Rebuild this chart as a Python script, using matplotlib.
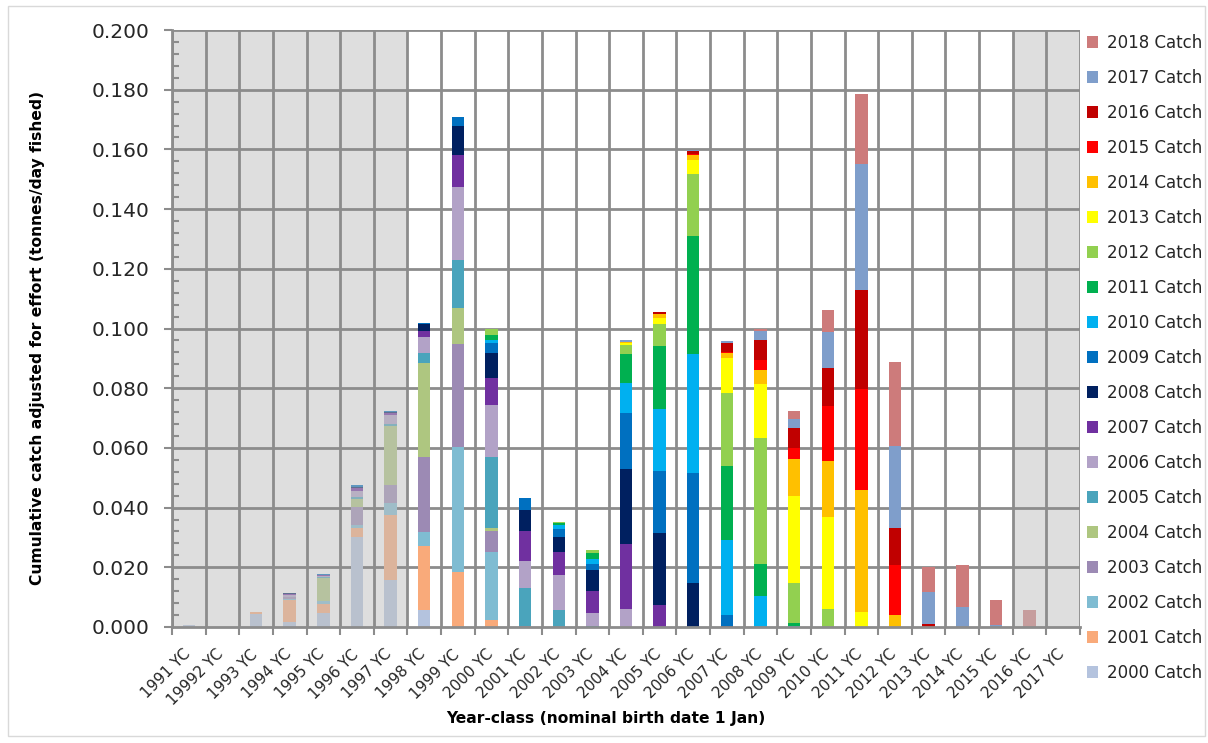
import matplotlib
matplotlib.use("Agg")
import matplotlib.pyplot as plt
import numpy as np
from matplotlib.patches import Rectangle, Patch
from matplotlib.colors import to_rgb
from matplotlib.transforms import blended_transform_factory, ScaledTranslation

year_classes = ["1991 YC", "19992 YC", "1993 YC", "1994 YC", "1995 YC", "1996 YC", "1997 YC",
                "1998 YC", "1999 YC", "2000 YC", "2001 YC", "2002 YC", "2003 YC", "2004 YC",
                "2005 YC", "2006 YC", "2007 YC", "2008 YC", "2009 YC", "2010 YC", "2011 YC",
                "2012 YC", "2013 YC", "2014 YC", "2015 YC", "2016 YC", "2017 YC"]

series_names = ["2000 Catch", "2001 Catch", "2002 Catch", "2003 Catch", "2004 Catch", "2005 Catch",
                "2006 Catch", "2007 Catch", "2008 Catch", "2009 Catch", "2010 Catch", "2011 Catch",
                "2012 Catch", "2013 Catch", "2014 Catch", "2015 Catch", "2016 Catch", "2017 Catch",
                "2018 Catch"]

catch_2000 = [0.0006, 0, 0.0043, 0.0016, 0.0048, 0.0302, 0.0159, 0.0057, 0, 0, 0, 0, 0, 0, 0, 0, 0, 0, 0, 0, 0, 0, 0, 0, 0, 0, 0]
catch_2001 = [0, 0, 0.0006, 0.0074, 0.0028, 0.0029, 0.0215, 0.0214, 0.0185, 0.0023, 0, 0, 0, 0, 0, 0, 0, 0, 0, 0, 0, 0, 0, 0, 0, 0, 0]
catch_2002 = [0, 0, 0, 0.0003, 0.0011, 0.0012, 0.0043, 0.0047, 0.0417, 0.0227, 0, 0, 0, 0, 0, 0, 0, 0, 0, 0, 0, 0, 0, 0, 0, 0, 0]
catch_2003 = [0, 0, 0, 0.0006, 0.0001, 0.0060, 0.0060, 0.0253, 0.0346, 0.0073, 0.0004, 0, 0, 0, 0, 0, 0, 0, 0, 0, 0, 0, 0, 0, 0, 0, 0]
catch_2004 = [0, 0, 0, 0.0003, 0.0076, 0.0027, 0.0197, 0.0314, 0.0121, 0.0008, 0, 0, 0, 0, 0, 0, 0, 0, 0, 0, 0, 0, 0, 0, 0, 0, 0]
catch_2005 = [0, 0, 0, 0, 0.0002, 0.0006, 0.0005, 0.0034, 0.0159, 0.0237, 0.0126, 0.0058, 0.0004, 0, 0, 0, 0, 0, 0, 0, 0, 0, 0, 0, 0, 0, 0]
catch_2006 = [0, 0, 0, 0.0005, 0.0004, 0.0019, 0.0030, 0.0052, 0.0245, 0.0176, 0.0091, 0.0115, 0.0043, 0.0060, 0, 0, 0, 0, 0, 0, 0, 0, 0, 0, 0, 0, 0]
catch_2007 = [0, 0, 0, 0.0004, 0.0004, 0.0009, 0.0007, 0.0020, 0.0107, 0.0091, 0.0099, 0.0077, 0.0075, 0.0219, 0.0073, 0, 0, 0, 0, 0, 0, 0, 0, 0, 0, 0, 0]
catch_2008 = [0, 0, 0, 0.0002, 0.0001, 0.0004, 0.0004, 0.0023, 0.0098, 0.0084, 0.0072, 0.0052, 0.0068, 0.0251, 0.0241, 0.0147, 0.0005, 0, 0, 0, 0, 0, 0, 0, 0, 0, 0]
catch_2009 = [0, 0, 0, 0, 0.0001, 0.0008, 0.0002, 0.0004, 0.0031, 0.0031, 0.0039, 0.0026, 0.0021, 0.0186, 0.0207, 0.0370, 0.0034, 0, 0, 0, 0, 0, 0, 0, 0, 0, 0]
catch_2010 = [0, 0, 0, 0, 0, 0, 0, 0.0002, 0, 0.0013, 0, 0.0013, 0.0018, 0.0100, 0.0210, 0.0399, 0.0251, 0.0103, 0.0005, 0, 0, 0, 0, 0, 0, 0, 0]
catch_2011 = [0, 0, 0, 0, 0, 0, 0, 0, 0, 0.0016, 0, 0.0009, 0.0018, 0.0097, 0.0210, 0.0395, 0.0249, 0.0108, 0.0008, 0, 0, 0, 0, 0, 0, 0, 0]
catch_2012 = [0, 0, 0, 0, 0, 0, 0, 0, 0, 0.0019, 0, 0.0003, 0.0011, 0.0032, 0.0075, 0.0207, 0.0244, 0.0423, 0.0135, 0.0061, 0, 0, 0, 0, 0, 0, 0]
catch_2013 = [0, 0, 0, 0, 0, 0, 0, 0, 0, 0, 0, 0, 0, 0.0007, 0.0020, 0.0045, 0.0117, 0.0179, 0.0291, 0.0309, 0.0050, 0, 0, 0, 0, 0, 0]
catch_2014 = [0, 0, 0, 0, 0, 0, 0, 0, 0, 0, 0, 0, 0, 0.0004, 0.0011, 0.0017, 0.0017, 0.0047, 0.0125, 0.0186, 0.0408, 0.0039, 0, 0, 0, 0, 0]
catch_2015 = [0, 0, 0, 0, 0, 0, 0, 0, 0, 0, 0, 0, 0, 0, 0.0003, 0.0004, 0.0003, 0.0035, 0.0035, 0.0185, 0.0338, 0.0168, 0.0003, 0, 0, 0, 0]
catch_2016 = [0, 0, 0, 0, 0, 0, 0, 0, 0, 0, 0, 0, 0, 0, 0.0004, 0.0010, 0.0031, 0.0066, 0.0066, 0.0128, 0.0332, 0.0126, 0.0007, 0, 0, 0, 0]
catch_2017 = [0, 0, 0, 0, 0, 0, 0, 0, 0, 0, 0, 0, 0, 0.0007, 0, 0.0003, 0.0008, 0.0031, 0.0033, 0.0118, 0.0422, 0.0274, 0.0106, 0.0066, 0.0007, 0, 0]
catch_2018 = [0, 0, 0, 0, 0, 0, 0, 0, 0, 0, 0, 0, 0, 0, 0, 0, 0, 0.0007, 0.0026, 0.0074, 0.0237, 0.0280, 0.0085, 0.0141, 0.0084, 0.0057, 0]

all_series = [catch_2000, catch_2001, catch_2002, catch_2003, catch_2004, catch_2005, catch_2006,
              catch_2007, catch_2008, catch_2009, catch_2010, catch_2011, catch_2012, catch_2013,
              catch_2014, catch_2015, catch_2016, catch_2017, catch_2018]

colors = ["#B4C3DE", "#F9AA7A", "#7FBCD2", "#9C8AB4", "#AEC680", "#4AA4BC", "#B2A2C7",
          "#7030A0", "#002060", "#0070C0", "#00B0F0", "#00B050", "#92D050", "#FFFF00",
          "#FFC000", "#FF0000", "#C00000", "#7F9ECB", "#CD7B7B"]

# shaded (grey) year-class ranges, as category index ranges
shaded_ranges = [(0, 6), (25, 26)]

W, H = 1208, 743
fig = plt.figure(figsize=(W / 100, H / 100), dpi=100)
ax = fig.add_axes([172 / W, 1 - 627 / H, (1080 - 172) / W, (627 - 30) / H])

grid_col = "#8C8C8C"
text_col = "#262626"
shade_rgb = np.array(to_rgb("#BEBEBE"))
n = len(year_classes)
x = np.arange(n)
in_shade = np.zeros(n, dtype=bool)
for a, b in shaded_ranges:
    in_shade[a:b + 1] = True
    ax.add_patch(Rectangle((a - 0.5, 0), b - a + 1, 0.2, facecolor="#DEDEDE",
                           edgecolor="none", zorder=0))

bottom = np.zeros(n)
for vals, col, name in zip(all_series, colors, series_names):
    v = np.array(vals)
    base = np.array(to_rgb(col))
    faded = base * 0.5 + shade_rgb * 0.5
    bar_cols = [tuple(faded) if s else tuple(base) for s in in_shade]
    ax.bar(x, v, width=0.37, bottom=bottom, color=bar_cols, edgecolor="none", zorder=2, label=name)
    bottom += v

ax.set_xlim(-0.5, n - 0.5)
ax.set_ylim(0, 0.2)

# gridlines
ax.set_yticks(np.arange(0, 0.2001, 0.02))
ax.set_yticks(np.arange(0, 0.2001, 0.004), minor=True)
for yv in np.arange(0.02, 0.2001, 0.02):
    ax.axhline(yv, color=grid_col, linewidth=2.0, zorder=1)
for i in range(n + 1):
    ax.axvline(i - 0.5, color=grid_col, linewidth=2.0, zorder=1)

ax.set_yticklabels([f"{v:.3f}" for v in np.arange(0, 0.2001, 0.02)], fontsize=14.5, color=text_col)
ax.tick_params(axis="y", which="major", direction="out", length=6, width=1.5, color=grid_col, pad=10)
ax.tick_params(axis="y", which="minor", direction="in", length=5, width=1.5, color=grid_col)

# x ticks at category boundaries
ax.set_xticks(np.arange(n + 1) - 0.5)
ax.set_xticklabels([])
ax.tick_params(axis="x", which="major", direction="out", length=6, width=1.5, color=grid_col)

for s in ["top", "right"]:
    ax.spines[s].set_visible(False)
for s in ["left", "bottom"]:
    ax.spines[s].set_color(grid_col)
    ax.spines[s].set_linewidth(2.0)
    ax.spines[s].set_zorder(4)

trans = blended_transform_factory(ax.transData, ax.transAxes) + ScaledTranslation(-1 / 100, -25 / 100, fig.dpi_scale_trans)
for i, lab in enumerate(year_classes):
    ax.text(i, 0, lab, transform=trans, rotation=45, rotation_mode="anchor",
            ha="right", va="center", fontsize=11.0, color=text_col)

fig.text(606 / W, 1 - 719 / H, "Year-class (nominal birth date 1 Jan)", ha="center", va="center",
         fontsize=11.2, fontweight="bold", color="#000000")
fig.text(38 / W, 1 - 338 / H, "Cumulative catch adjusted for effort (tonnes/day fished)",
         rotation=90, ha="center", va="center", fontsize=11.2, fontweight="bold", color="#000000")

handles = [Patch(facecolor=c, edgecolor="none") for c in colors][::-1]
fig.legend(handles, series_names[::-1], loc="upper left", bbox_to_anchor=(1080 / W, 1 - 27 / H),
           frameon=False, fontsize=12, handlelength=0.7, handleheight=0.7, handletextpad=0.5,
           labelspacing=1.02, borderaxespad=0, labelcolor=text_col)

fig.add_artist(Rectangle((8 / W, 7 / H), (1205 - 8) / W, (737 - 7) / H, transform=fig.transFigure,
                         facecolor="none", edgecolor="#D9D9D9", linewidth=1))

fig.savefig("out.png", dpi=100)
